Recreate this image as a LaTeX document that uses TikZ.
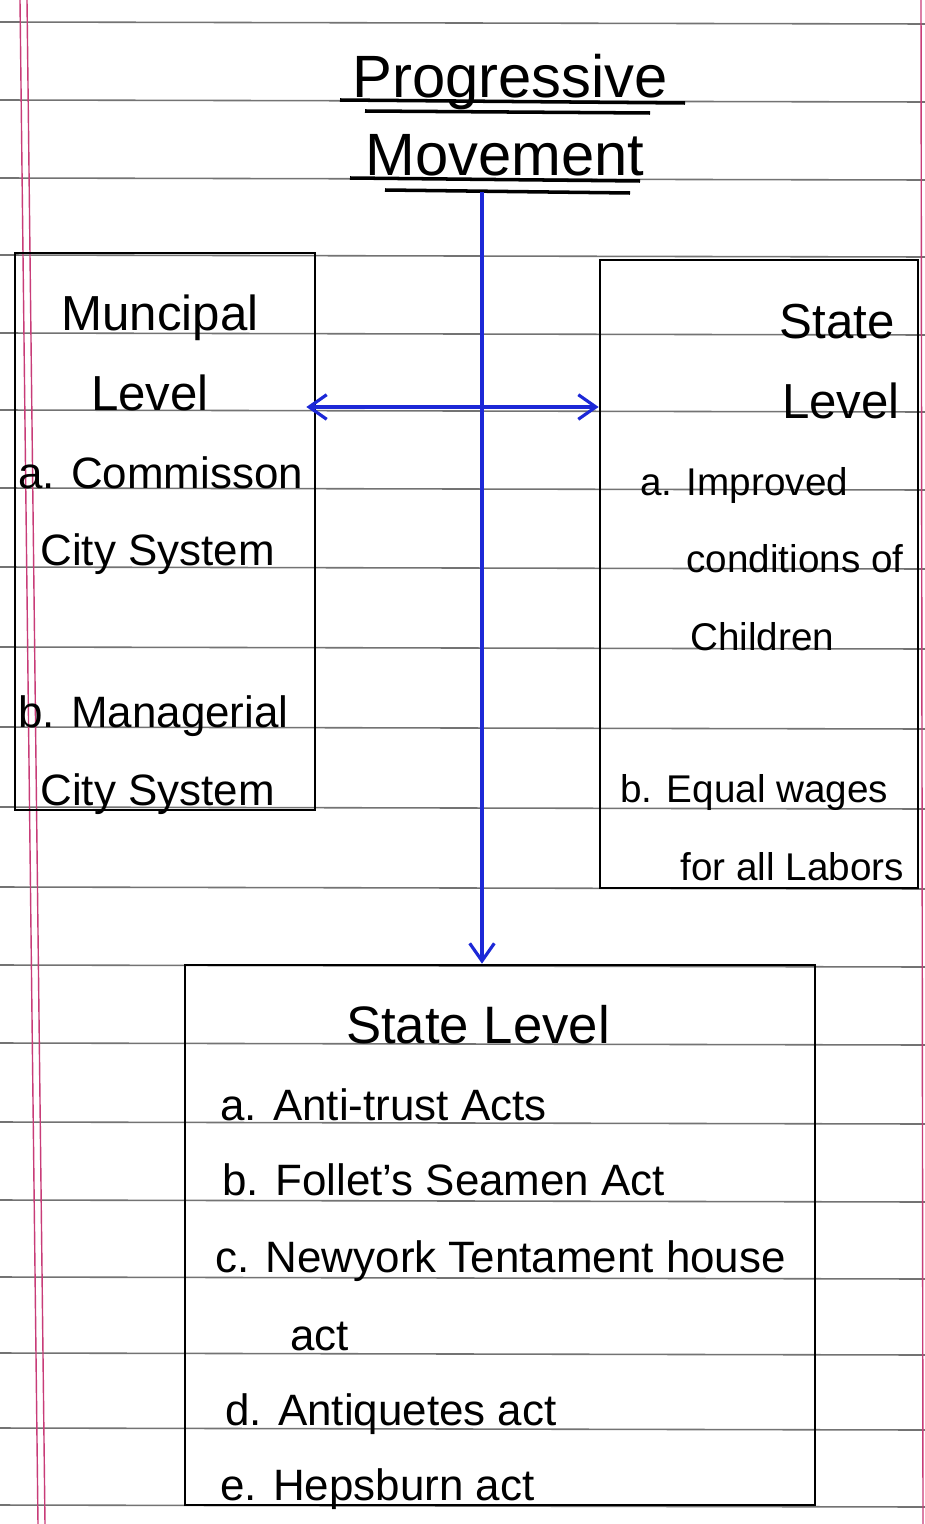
\documentclass[tikz,border=0pt]{standalone}
\usepackage{fontspec}
\setmainfont{Liberation Sans}
\usepackage{tikz}
\usetikzlibrary{positioning,arrows.meta}
\definecolor{pen}{RGB}{28,40,215}
\definecolor{margin}{RGB}{200,60,120}

\begin{document}
\begin{tikzpicture}[
	x=0.02cm, y=-0.02cm
	,box/.style={draw, line width=1.6pt, inner sep=0pt}
	,txt/.style={anchor=base west, inner sep=0pt, font=\fontsize{25}{30}\selectfont}
	,small/.style={txt, font=\fontsize{22}{26}\selectfont}
	,head/.style={anchor=base, inner sep=0pt, font=\fontsize{34}{40}\selectfont}
	,link/.style={pen, line width=1.8pt, -{Straight Barb[length=10pt, width=14pt, line width=1.8pt]}}
	,ruled/.style={black!55, line width=0.9pt}
	,underline/.style={line width=2pt}
]
	\useasboundingbox[fill=white] (0,0) rectangle (925,1524);

	% notebook paper
	\foreach \y in {22,100,178,255,333,410,488,567,647,727,807,887,965,1043,1122,1200,1277,1353,1428,1505}
		\draw[ruled] (0,\y) -- (925,\y+2);
	\draw[margin, line width=0.8pt] (20,0) -- (38,1524);
	\draw[margin, line width=0.8pt] (27,0) -- (45,1524);
	\draw[margin, line width=0.8pt] (921,0) -- (923,1524);

	% title
	\node[head] (prog) at (510,98) {Progressive};
	\node[head] (move) at (505,176) {Movement};
	\draw[underline] (340,100) -- (685,103);
	\draw[underline] (365,111) -- (650,113);
	\draw[underline] (350,178) -- (640,181);
	\draw[underline] (385,190) -- (630,193);

	% boxes
	\node[box, minimum width=6cm, minimum height=11.14cm] (lbox) at (165,531.5) {};
	\node[box, minimum width=6.36cm, minimum height=12.56cm] (rbox) at (759,574) {};
	\node[box, minimum width=12.6cm, minimum height=10.8cm] (bbox) at (500,1235) {};

	% municipal level
	\node[head, font=\fontsize{28}{32}\selectfont] (mun) at (160,330) {Muncipal};
	\node[head, font=\fontsize{28}{32}\selectfont] (mlev) at (150,410) {Level};
	\node[txt] (ma) at (18,488) {a. Commisson};
	\node[txt] (ma2) at (40,565) {City System};
	\node[txt] (mb) at (18,727) {b. Managerial};
	\node[txt] (mb2) at (40,805) {City System};

	% state level (right)
	\node[head, anchor=base east, font=\fontsize{28}{32}\selectfont] (st) at (895,338) {State};
	\node[head, anchor=base east, font=\fontsize{28}{32}\selectfont] (slev) at (900,418) {Level};
	\node[small] (sa) at (640,495) {a. Improved};
	\node[small] (sa2) at (686,572) {conditions of};
	\node[small] (sa3) at (690,650) {Children};
	\node[small] (sb) at (620,802) {b. Equal wages};
	\node[small] (sb2) at (680,880) {for all Labors};

	% state level (bottom)
	\node[head, font=\fontsize{30}{34}\selectfont] (bst) at (478,1043) {State Level};
	\node[txt] (ba) at (220,1120) {a. Anti-trust Acts};
	\node[txt] (bb) at (222,1195) {b. Follet's Seamen Act};
	\node[txt] (bc) at (215,1272) {c. Newyork Tentament house};
	\node[txt] (bc2) at (290,1350) {act};
	\node[txt] (bd) at (225,1425) {d. Antiquetes act};
	\node[txt] (be) at (220,1500) {e. Hepsburn act};

	% connectors
	\coordinate (top) at (482,192);
	\coordinate (mid) at (482,407);
	\draw[link] (top) -- (top |- bbox.north);
	\draw[link, {Straight Barb[length=10pt, width=14pt, line width=1.8pt]}-{Straight Barb[length=10pt, width=14pt, line width=1.8pt]}] ([xshift=-0.2cm]lbox.east |- mid) -- (rbox.west |- mid);
\end{tikzpicture}
\end{document}
